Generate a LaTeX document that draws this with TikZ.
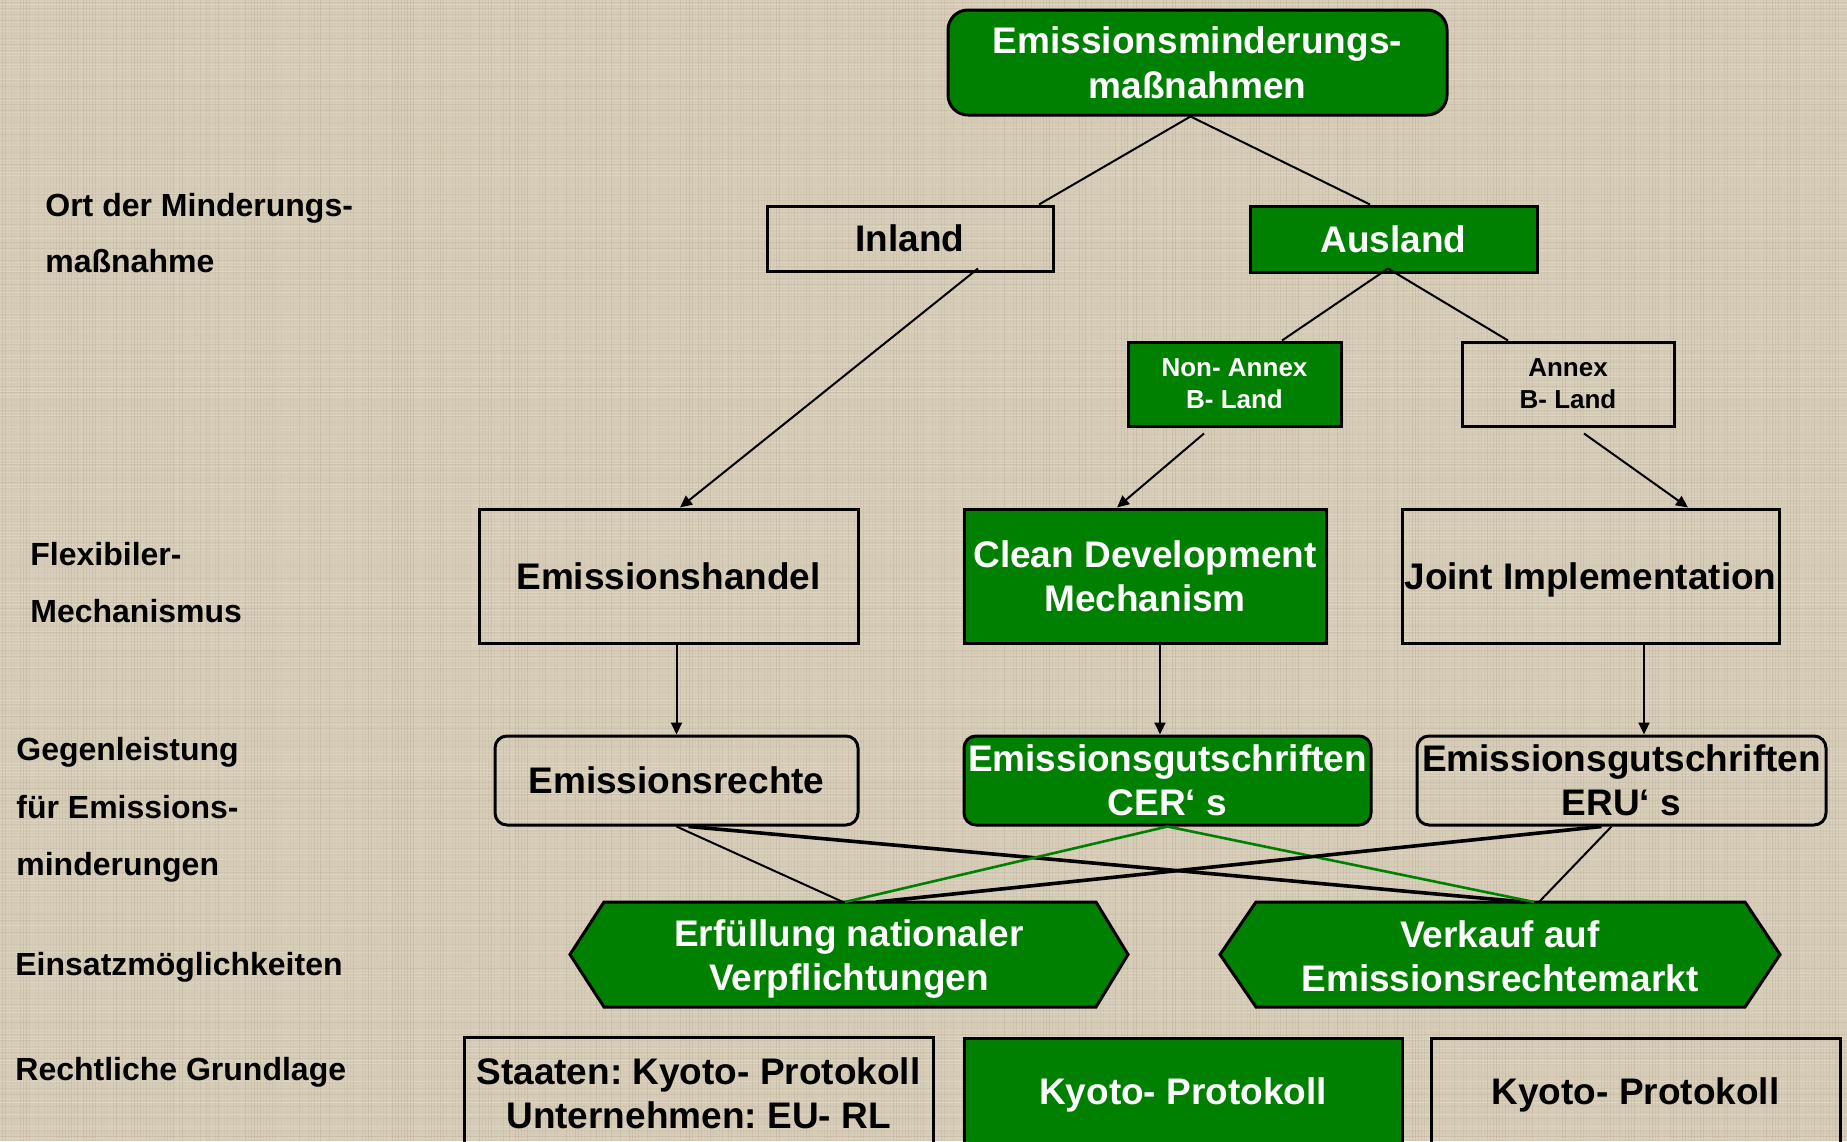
\documentclass[tikz,border=0pt]{standalone}
\usepackage{fontspec}
\setmainfont{Liberation Sans}
\frenchspacing
\usetikzlibrary{calc,arrows.meta}
\definecolor{linen}{RGB}{214,204,183}
\definecolor{linenlight}{RGB}{238,232,218}
\definecolor{linendark}{RGB}{165,152,128}
\definecolor{leaf}{RGB}{0,128,0}
\tikzset{
  main/.style={font=\bfseries\fontsize{18.5pt}{22pt}\selectfont, align=center, inner sep=0pt},
  box/.style={main, draw=black, line width=1.5pt},
  gbox/.style={box, fill=leaf, text=white},
  pbox/.style={box, text=black},
  small/.style={font=\bfseries\fontsize{13pt}{16pt}\selectfont},
  rowlabel/.style={font=\bfseries\fontsize{16pt}{19pt}\selectfont, anchor=base west, inner sep=0pt},
  link/.style={draw=black, line width=1pt},
  heavylink/.style={draw=black, line width=1.8pt},
  greenlink/.style={draw=leaf, line width=1.3pt},
  arrowlink/.style={link, -{Triangle[length=6pt,width=5.5pt]}},
  hexfill/.style={fill=leaf, draw=black, line width=1.5pt, line join=miter},
}
\begin{document}
\begin{tikzpicture}[x=0.5pt,y=-0.5pt]
% linen background
\useasboundingbox (0,0) rectangle (1847,1141);
\fill[linen] (0,0) rectangle (1847,1141);
\pgfmathsetseed{11}
\foreach \i in {1,4,...,1140} {
  \pgfmathsetmacro\op{rnd*0.4}
  \draw[linenlight, opacity=\op, line width=0.5pt] (0,\i) -- (1847,\i);
}
\foreach \i in {2.5,8.5,...,1140} {
  \pgfmathsetmacro\op{rnd*0.2}
  \draw[linendark, opacity=\op, line width=0.5pt] (0,\i) -- (1847,\i);
}
\foreach \i in {2,5,...,1846} {
  \pgfmathsetmacro\op{rnd*0.28}
  \draw[linendark, opacity=\op, line width=0.5pt] (\i,0) -- (\i,1141);
}

% row labels
\node[rowlabel] (l1a) at (45,216) {Ort der Minderungs-};
\node[rowlabel] (l1b) at (45,272) {maßnahme};
\node[rowlabel] (l2a) at (30,565) {Flexibiler-};
\node[rowlabel] (l2b) at (30,622) {Mechanismus};
\node[rowlabel] (l3a) at (16,760) {Gegenleistung};
\node[rowlabel] (l3b) at (16,818) {für Emissions-};
\node[rowlabel] (l3c) at (16,875) {minderungen};
\node[rowlabel] (l4) at (15,975) {Einsatzmöglichkeiten};
\node[rowlabel] (l5) at (15,1080) {Rechtliche Grundlage};

% tree
\node[gbox, rounded corners=10pt, minimum width=249.5pt, minimum height=52.5pt,
      font=\bfseries\fontsize{18.5pt}{22.5pt}\selectfont] (top) at (1197.5,62.5)
      {Emissionsminderungs-\\maßnahmen};
\node[pbox, minimum width=143pt, minimum height=32.5pt] (inl) at (910,238.5) {Inland};
\node[gbox, minimum width=143.5pt, minimum height=33pt] (aus) at (1393.5,239) {Ausland};
\node[gbox, small, minimum width=106.5pt, minimum height=42pt] (na) at (1234.5,384) {Non- Annex\\B- Land};
\node[pbox, small, minimum width=106pt, minimum height=42pt] (an) at (1568,384) {Annex\\B- Land};

\node[pbox, minimum width=189.5pt, minimum height=67pt] (eh) at (668.5,576) {Emissionshandel};
\node[gbox, minimum width=181pt, minimum height=67pt] (cdm) at (1145,576) {Clean Development\\Mechanism};
\node[pbox, minimum width=188.5pt, minimum height=67pt, text depth=0pt] (ji) at (1590.5,576) {Joint Implementation};

\node[pbox, rounded corners=6pt, minimum width=181.5pt, minimum height=44.5pt] (er) at (676.5,780.5) {Emissionsrechte};
\node[gbox, rounded corners=6pt, minimum width=203.5pt, minimum height=44.5pt] (cer) at (1167.5,780.5) {Emissionsgutschriften\\CER‘ s};
\node[pbox, rounded corners=6pt, minimum width=204.5pt, minimum height=44.5pt] (eru) at (1621.5,780.5) {Emissionsgutschriften\\ERU‘ s};

% use cases
\path[hexfill] (570,954.5) -- (604,902) -- (1096,902) -- (1128,954.5) -- (1096,1007) -- (604,1007) -- cycle;
\node[main, text=white] (erf) at (849,959) {Erfüllung nationaler\\Verpflichtungen};
\path[hexfill] (1220,954.5) -- (1256,902) -- (1745,902) -- (1780,954.5) -- (1745,1007) -- (1256,1007) -- cycle;
\node[main, text=white] (verk) at (1500,956) {Verkauf auf\\Emissionsrechtemarkt};
\coordinate (erftop) at (843,902);
\coordinate (verktop) at (1537,902);

% legal basis
\begin{scope}
\clip (0,0) rectangle (1847,1141);
\node[pbox, minimum width=234.5pt, minimum height=56.5pt] (b1) at (698.5,1093.5) {Staaten: Kyoto- Protokoll\\Unternehmen: EU- RL};
\node[gbox, minimum width=219pt, minimum height=56.5pt] (b2) at (1183,1094.5) {Kyoto- Protokoll};
\node[pbox, minimum width=204.5pt, minimum height=56.5pt] (b3) at (1635.5,1094.5) {Kyoto- Protokoll};
\end{scope}

% connectors
\coordinate (tp) at ($(top.south)+(-7,0)$);
\draw[link] (tp) -- ($(inl.north)+(129,0)$);
\draw[link] (tp) -- ($(aus.north)+(-23.5,0)$);
\draw[arrowlink] ($(inl.south)+(68,-4)$) -- ($(eh.north)+(11.5,0)$);
\coordinate (ap) at ($(aus.south)+(-5.5,-5)$);
\draw[link] (ap) -- ($(na.north)+(47.5,0)$);
\draw[link] (ap) -- ($(an.north)+(-60,0)$);
\draw[arrowlink] ($(na.south)+(-30.5,6)$) -- ($(cdm.north)+(-28,0)$);
\draw[arrowlink] ($(an.south)+(16,6)$) -- ($(ji.north)+(97.5,0)$);

\draw[arrowlink] (er.north |- eh.south) -- (er.north);
\coordinate (c1) at ($(cdm.south)+(15,0)$);
\draw[arrowlink] (c1) -- (c1 |- cer.north);
\coordinate (c2) at ($(ji.south)+(53.5,0)$);
\draw[arrowlink] (c2) -- (c2 |- eru.north);

\draw[link] (er.south) -- (erftop);
\draw[heavylink] ($(er.south)+(12,0)$) -- ($(verktop)+(-12,0)$);
\draw[greenlink] (cer.south) -- ($(erftop)+(2,0)$);
\draw[greenlink] (cer.south) -- ($(verktop)+(-3,0)$);
\draw[heavylink] ($(eru.south)+(-20,0)$) -- ($(erftop)+(33,0)$);
\draw[link] ($(eru.south)+(-10,0)$) -- ($(verktop)+(2,0)$);
\end{tikzpicture}
\end{document}
